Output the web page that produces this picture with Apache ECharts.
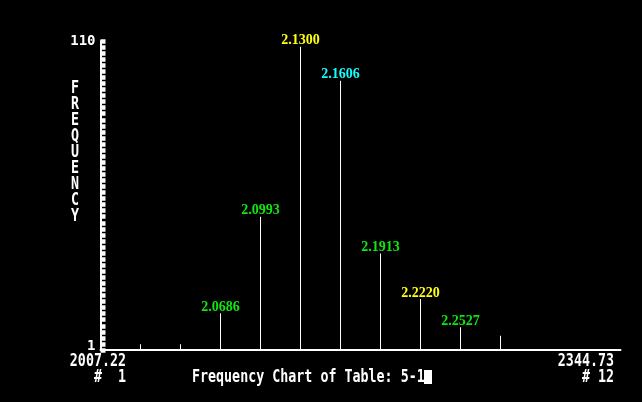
<!DOCTYPE html>
<html>
<head>
<meta charset="utf-8">
<script src="https://cdn.jsdelivr.net/npm/echarts@6/dist/echarts.min.js"></script>
<style>
html,body{margin:0;padding:0;background:#000;}
#chart{width:642px;height:402px;}
</style>
</head>
<body>
<div id="chart"></div>
<script>
// ---- data ----
const binCenters = [2007.22, 2037.90, 2068.59, 2099.27, 2129.95, 2160.64, 2191.32, 2222.00, 2252.68, 2283.37];
const frequencies = [3, 3, 14, 48, 108, 96, 35, 19, 9, 6];
const spikeLabels = ['', '', '2.0686', '2.0993', '2.1300', '2.1606', '2.1913', '2.2220', '2.2527', ''];
const xAxisRange = [1976.54, 2375.41];
const yTickValues = [1, 110];
const xEndLabels = ['2007.22', '2344.73'];
const binEndLabels = ['#  1', '# 12'];
const yAxisTitle = 'FREQUENCY';
const chartTitle = 'Frequency Chart of Table: 5-1';

// ---- styles ----
const LABEL_COLORS = ['', '', '#11e611', '#11e611', '#ffff11', '#11ffff', '#11e611', '#ffff11', '#11e611', ''];
const DOS_FONT = 'DejaVu Sans Mono';
const SY = 1.35;

const chart = echarts.init(document.getElementById('chart'), null, {renderer: 'canvas'});

function dosText(str, x, capTop, align) {
  return {
    type: 'text',
    x: x,
    y: capTop - 1,
    scaleY: SY,
    silent: true,
    style: {
      text: str,
      fill: '#fff',
      font: 'bold 13.33px "' + DOS_FONT + '"',
      textAlign: align,
      textVerticalAlign: 'top'
    }
  };
}

const option = {
  backgroundColor: '#000',
  animation: false,
  grid: {left: 100.5, right: 21.5, top: 41, bottom: 52, containLabel: false},
  xAxis: {
    type: 'value',
    min: xAxisRange[0],
    max: xAxisRange[1],
    axisLine: {show: true, lineStyle: {color: '#fff', width: 2}},
    axisTick: {show: false},
    axisLabel: {show: false},
    splitLine: {show: false}
  },
  yAxis: [
    {
      type: 'value',
      min: 1,
      max: 110,
      axisLine: {show: true, lineStyle: {color: '#fff', width: 2}},
      axisTick: {show: false},
      splitLine: {show: false},
      axisLabel: {
        customValues: yTickValues,
        color: '#fff',
        fontFamily: DOS_FONT,
        fontWeight: 'bold',
        fontSize: 14,
        margin: 5,
        formatter: function (v) { return v === yTickValues[0] ? '{lo|' + v + '}' : '{hi|' + v + '}'; },
        rich: {
          lo: {color: '#fff', fontFamily: DOS_FONT, fontWeight: 'bold', fontSize: 14, padding: [0, 0, 8, 0]},
          hi: {color: '#fff', fontFamily: DOS_FONT, fontWeight: 'bold', fontSize: 14}
        }
      }
    },
    {
      type: 'value',
      min: 0,
      max: 51,
      interval: 1,
      position: 'left',
      axisLine: {show: false},
      axisTick: {show: true, inside: true, length: 5, lineStyle: {color: '#fff', width: 4.5}},
      axisLabel: {show: false},
      splitLine: {show: false}
    }
  ],
  series: [{
    type: 'bar',
    xAxisIndex: 0,
    yAxisIndex: 0,
    barWidth: 1,
    clip: true,
    itemStyle: {color: '#fff'},
    label: {
      position: 'top',
      distance: -1,
      fontFamily: 'Liberation Serif',
      fontWeight: 'bold',
      fontSize: 14
    },
    data: binCenters.map(function (x, i) {
      return {
        value: [x, frequencies[i]],
        label: spikeLabels[i]
          ? {show: true, formatter: spikeLabels[i], color: LABEL_COLORS[i]}
          : {show: false}
      };
    })
  }],
  graphic: [
    dosText(yAxisTitle.split('').join('\n'), 75, 81, 'center'),
    dosText(xEndLabels[0], 126, 354, 'right'),
    dosText(binEndLabels[0], 126, 370, 'right'),
    dosText(chartTitle, 192, 370, 'left'),
    dosText(xEndLabels[1], 614, 354, 'right'),
    dosText(binEndLabels[1], 614, 370, 'right'),
    {type: 'rect', silent: true, shape: {x: 424, y: 370, width: 8, height: 14}, style: {fill: '#fff'}}
  ]
};
option.graphic[0].style.lineHeight = 16 / SY;
chart.setOption(option);
</script>
</body>
</html>
